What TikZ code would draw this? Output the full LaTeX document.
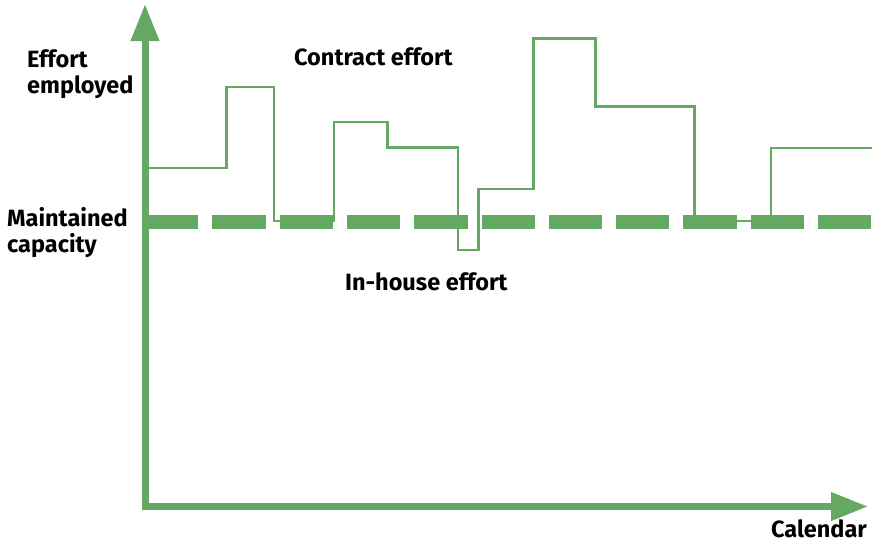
\documentclass[tikz,border=0pt]{standalone}
\usepackage{fontspec}
\setmainfont{Fira Sans}
\usetikzlibrary{arrows.meta,calc}
\definecolor{grn}{RGB}{100,168,98}
\tikzset{
  axis/.style={draw=grn, line width=7pt, -{Triangle[length=37pt,width=27pt]}},
  capline/.style={draw=grn, line width=14pt, dash pattern=on 53.3pt off 14pt},
  effline/.style={draw=grn, line width=2.6pt, line join=miter},
  lbl/.style={font=\fontsize{23.5}{26}\selectfont\bfseries, inner sep=0pt, align=left}
}
\begin{document}
\begin{tikzpicture}[x=1pt,y=-1pt]
\useasboundingbox (0,0) rectangle (872,544);
\coordinate (o) at (145,506.5);
\coordinate (ytip) at (145,4);
\coordinate (xtip) at (868,506.5);
\coordinate (cs) at (145,222);
\coordinate (ce) at (872,222);
% capacity dashed line
\draw[capline] (cs) -- (ce);
% effort step line
\draw[effline] (148,168) -- (226.7,168) -- (226.7,87) -- (274,87) -- (274,221) -- (334,221)
  -- (334,122) -- (387.3,122) -- (387.3,147.5) -- (458,147.5) -- (458,250) -- (478.3,250)
  -- (478.3,189) -- (533.3,189) -- (533.3,38.5) -- (595.7,38.5) -- (595.7,106.7)
  -- (694.3,106.7) -- (694.3,221) -- (771,221) -- (771,148) -- (872,148);
% axes
\draw[axis] ($(o)+(0,3.5)$) -- (ytip);
\draw[axis] ($(o)+(-3.5,0)$) -- (xtip);
% labels
\node[lbl, anchor=base west] (effl) at (27,93) {Effort\\employed};
\node[lbl, anchor=base west] (capl) at (7,252.5) {Maintained\\capacity};
\node[lbl, anchor=base west] (contl) at (294,65) {Contract effort};
\node[lbl, anchor=base west] (inl) at (345,290) {In-house effort};
\node[lbl, anchor=base east] (call) at (867,537) {Calendar};
\end{tikzpicture}
\end{document}
